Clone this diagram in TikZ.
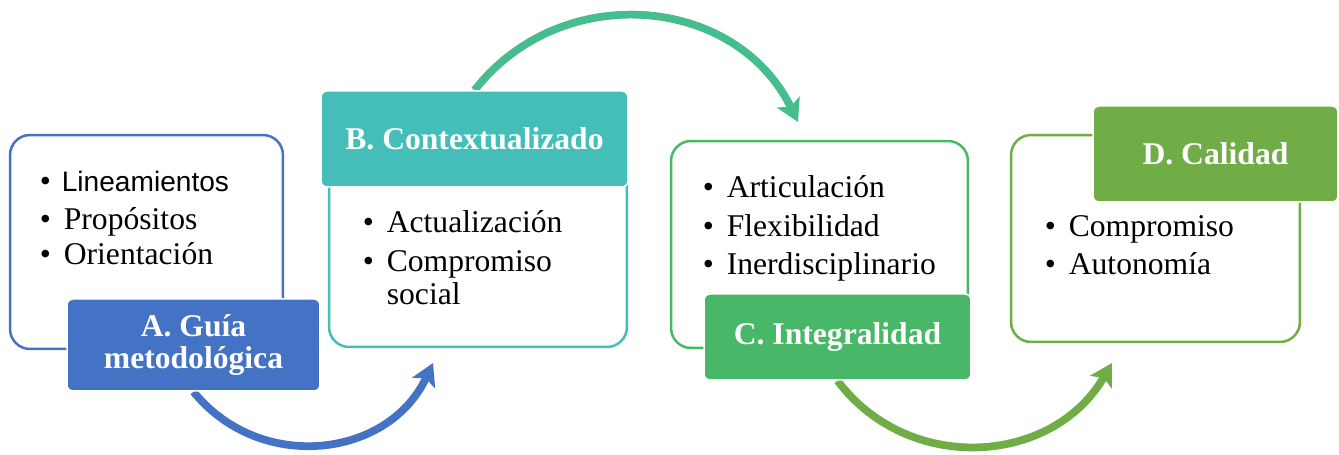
\documentclass[tikz,border=0pt]{standalone}
\usepackage{fontspec}
\setmainfont{Liberation Serif}
\newfontfamily\sansfam{Liberation Sans}
\usetikzlibrary{arrows.meta,backgrounds}
\definecolor{azulA}{HTML}{4472C4}
\definecolor{tealB}{HTML}{45BEB9}
\definecolor{flechaB}{HTML}{46BD8D}
\definecolor{verdeC}{HTML}{48B868}
\definecolor{verdeD}{HTML}{70AD47}
\newcommand{\bul}[1]{\makebox[0.48cm][l]{\textbullet}#1}

\begin{document}
\begin{tikzpicture}[x=0.02cm,y=0.02cm,
    caja/.style={draw,line width=0.05cm,rounded corners=0.4cm,fill=white,inner sep=0pt},
    etiqueta/.style={draw=white,line width=0.03cm,rounded corners=0.12cm,text=white,inner sep=0pt,align=center,font=\fontsize{18}{18.4}\selectfont\bfseries},
    punto/.style={anchor=base west,inner sep=0pt,font=\fontsize{18}{21}\selectfont},
    flecha/.style={line width=0.155cm,-{Stealth[length=0.44cm,width=0.5cm,inset=0.1cm]}}]
  \useasboundingbox (0,0) rectangle (1339,455);
  % cajas
  \node[caja,draw=azulA,minimum width=5.46cm,minimum height=4.28cm](cajaA)at(146.5,213){};
  \node[caja,draw=tealB,minimum width=5.96cm,minimum height=4.14cm](cajaB)at(478,211.5){};
  \node[caja,draw=verdeC,minimum width=5.94cm,minimum height=4.14cm](cajaC)at(819.5,210.5){};
  \node[caja,draw=verdeD,minimum width=5.78cm,minimum height=4.14cm](cajaD)at(1155.5,216.5){};
  % etiquetas
  \node[etiqueta,fill=azulA,minimum width=5.06cm,minimum height=1.84cm](etqA)at(193.5,110){A. Guía\\metodológica};
  \node[etiqueta,fill=tealB,minimum width=6.14cm,minimum height=1.92cm](etqB)at(474.5,316){B. Contextualizado};
  \node[etiqueta,fill=verdeC,minimum width=5.34cm,minimum height=1.72cm](etqC)at(837.5,118){C. Integralidad};
  \node[etiqueta,fill=verdeD,minimum width=4.90cm,minimum height=1.92cm](etqD)at(1215.5,301){D. Calidad};
  % puntos
  \node[punto](a1)at(39.5,263){\makebox[0.44cm][l]{\textbullet}{\sansfam\fontsize{16}{19}\selectfont Lineamientos}};
  \node[punto](a2)at(39.5,225){\bul{Propósitos}};
  \node[punto](a3)at(39.5,190){\bul{Orientación}};
  \node[punto](b1)at(362.5,222){\bul{Actualización}};
  \node[punto](b2)at(362.5,183){\bul{Compromiso}};
  \node[punto](b3)at(362.5,150){\hspace*{0.48cm}social};
  \node[punto](c1)at(702.5,257){\bul{Articulación}};
  \node[punto](c2)at(702.5,218){\bul{Flexibilidad}};
  \node[punto](c3)at(702.5,180){\bul{Inerdisciplinario}};
  \node[punto](d1)at(1044.5,218){\bul{Compromiso}};
  \node[punto](d2)at(1044.5,180){\bul{Autonomía}};
  % flechas
  \coordinate (finAB) at (433,92);
  \coordinate (finBC) at (798,333);
  \coordinate (finCD) at (1112,92);
  \begin{scope}[on background layer]
    \draw[flecha,azulA](etqA.south) to[out=-51,in=245,looseness=1.12] (finAB);
    \draw[flecha,flechaB](etqB.north) to[out=52,in=116,looseness=1.11] (finBC);
    \draw[flecha,verdeD](etqC.south) to[out=-53,in=240,looseness=1.10] (finCD);
  \end{scope}
\end{tikzpicture}
\end{document}
